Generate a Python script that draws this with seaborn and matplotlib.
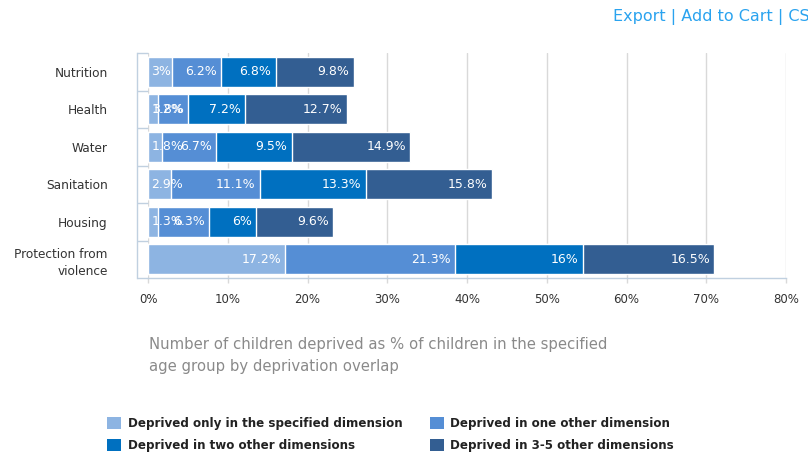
import numpy as np
import pandas as pd
import matplotlib
matplotlib.use("Agg")
import matplotlib.pyplot as plt
from matplotlib.patches import Patch
from matplotlib.ticker import FixedLocator
import seaborn as sns

# Deprivation domains (top to bottom) and the four overlap groups, in % of children
categories = ["Nutrition", "Health", "Water", "Sanitation", "Housing",
              "Protection from\nviolence"]
only_specified = [3.0, 1.2, 1.8, 2.9, 1.3, 17.2]
one_other = [6.2, 3.8, 6.7, 11.1, 6.3, 21.3]
two_other = [6.8, 7.2, 9.5, 13.3, 6.0, 16.0]
three_to_five = [9.8, 12.7, 14.9, 15.8, 9.6, 16.5]

series_names = ["Deprived only in the specified dimension",
                "Deprived in one other dimension",
                "Deprived in two other dimensions",
                "Deprived in 3-5 other dimensions"]
series_colors = ["#8DB4E2", "#558ED5", "#0070C0", "#335E92"]
x_ticks = [0, 10, 20, 30, 40, 50, 60, 70, 80]

axis_title = ("Number of children deprived as % of children in the specified\n"
              "age group by deprivation overlap")
toolbar_text = "Export | Add to Cart | CSV"

sns.set_theme(style="white")
plt.rcParams["font.family"] = ["DejaVu Sans"]

W, H = 808, 455
fig = plt.figure(figsize=(W / 100, H / 100), dpi=100)
fig.patch.set_facecolor("white")
ax = fig.add_axes([148 / W, 1 - 278 / H, (786 - 148) / W, (278 - 53) / H])

series = [only_specified, one_other, two_other, three_to_five]
cumulative = np.cumsum(np.array(series), axis=0)

# Stacked bars: draw the running totals from the longest down, each one on top
for i in reversed(range(len(series))):
    df = pd.DataFrame({"category": categories, "value": cumulative[i]})
    sns.barplot(data=df, x="value", y="category", orient="h",
                color=series_colors[i], saturation=1, width=0.8,
                errorbar=None, edgecolor="white", linewidth=1, ax=ax)

ax.set_xlim(0, 80)
ax.set_ylim(5.5, -0.5)
ax.set_xlabel("")
ax.set_ylabel("")

# Value labels, right-aligned inside each segment
labels = []
for i, vals in enumerate(series):
    for j, (end, v) in enumerate(zip(cumulative[i], vals)):
        t = ax.annotate(f"{v:g}%", xy=(end, j), xytext=(-3, 0),
                        textcoords="offset points", ha="right", va="center",
                        color="white", fontsize=9)
        labels.append((t, j))

# Labels that would spill past the left edge of the plot are pushed back inside
fig.canvas.draw()
renderer = fig.canvas.get_renderer()
left_px = ax.get_window_extent(renderer).x0
for t, j in labels:
    bb = t.get_window_extent(renderer)
    if bb.x0 < left_px + 3:
        t.xy = (0, j)
        t.set_position((2.3, 0))
        t.set_ha("left")

ax.xaxis.set_major_locator(FixedLocator(x_ticks))
ax.set_xticklabels([f"{t}%" for t in x_ticks])
ax.grid(axis="x", color="#D9D9D9", linewidth=1)
ax.grid(axis="y", visible=False)
ax.set_axisbelow(True)

for side in ("top", "right"):
    ax.spines[side].set_visible(False)
ax.spines["left"].set_position(("outward", 7.9))
ax.spines["left"].set_color("#C0D0E0")
ax.spines["bottom"].set_color("#C0D0E0")
ax.spines["left"].set_linewidth(1)
ax.spines["bottom"].set_linewidth(1)

ax.set_yticks(range(len(categories)))
ax.set_yticklabels(categories, linespacing=1.45)
ax.set_yticks(np.arange(-0.5, len(categories), 1.0), minor=True)
ax.tick_params(axis="y", which="major", length=0, pad=21, labelsize=8.7,
               labelcolor="#333333")
ax.tick_params(axis="y", which="minor", length=7.9, direction="in",
               color="#C0D0E0", width=1, left=True)
ax.tick_params(axis="x", which="major", length=3.6, direction="out",
               color="#D9D9D9", width=1, pad=7, labelsize=8.5,
               labelcolor="#333333", bottom=True)

fig.text(149 / W, 1 - 337 / H, axis_title, ha="left", va="top",
         fontsize=10.7, color="#8A8A8A", linespacing=1.55)

fig.text(613 / W, 1 - 17 / H, toolbar_text, ha="left", va="center",
         fontsize=11.5, color="#2AA3EF")

handles = [Patch(facecolor=c, edgecolor="none", label=n)
           for c, n in zip(series_colors, series_names)]
order = [0, 2, 1, 3]
fig.legend(handles=[handles[k] for k in order], ncol=2, frameon=False,
           loc="upper left", bbox_to_anchor=(107 / W, 1 - 417 / H),
           borderpad=0, borderaxespad=0,
           prop={"weight": "bold", "size": 8.6},
           handlelength=1.18, handleheight=1.18, handletextpad=0.55,
           labelspacing=0.72, columnspacing=2.3, labelcolor="#222222")

fig.savefig("out.png", dpi=100, facecolor="white")
